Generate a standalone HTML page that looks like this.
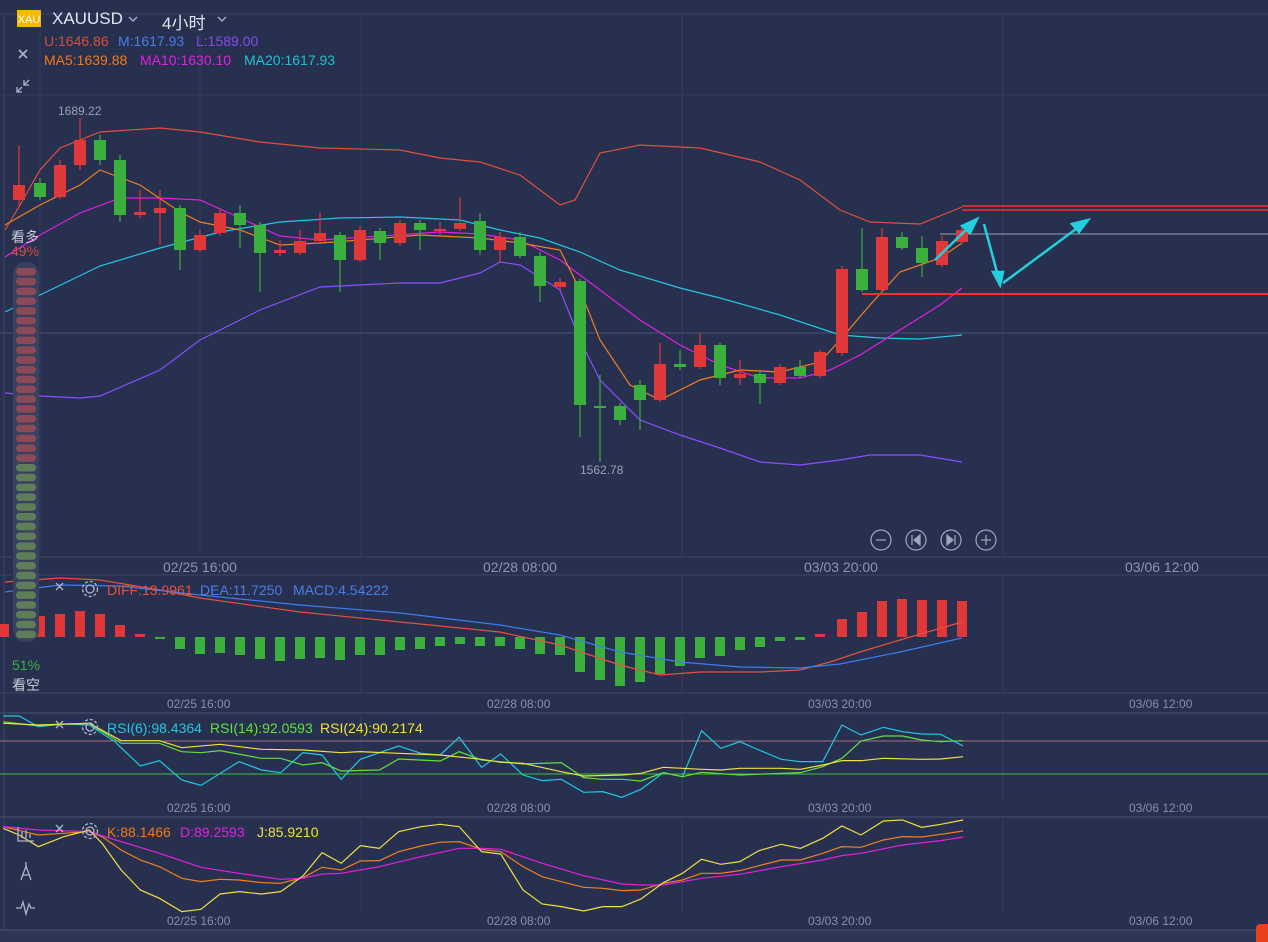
<!DOCTYPE html>
<html><head><meta charset="utf-8"><style>
body{margin:0;background:#283050;width:1268px;height:942px;overflow:hidden;font-family:"Liberation Sans","Noto Sans CJK SC",sans-serif;position:relative}
.t{position:absolute;font-size:14px;white-space:nowrap}
.ax{position:absolute;font-size:12px;color:#8a8fa8}
</style></head><body>
<svg width="1268" height="942" style="position:absolute;left:0;top:0">
<rect x="0" y="930" width="1268" height="12" fill="#2e3556"/>
<line x1="0" y1="14" x2="1268" y2="14" stroke="#3c4466"/>
<line x1="4" y1="14" x2="4" y2="930" stroke="#3c4466"/>
<g stroke="#343c5e" stroke-width="1">
<line x1="40" y1="14" x2="40" y2="557"/><line x1="200" y1="14" x2="200" y2="557"/><line x1="361" y1="14" x2="361" y2="557"/><line x1="682" y1="14" x2="682" y2="557"/><line x1="1003" y1="14" x2="1003" y2="557"/>
<line x1="0" y1="95" x2="1268" y2="95"/><line x1="0" y1="333" x2="1268" y2="333" stroke="#4a5272"/>
<line x1="0" y1="557" x2="1268" y2="557" stroke="#3c4466"/>
<line x1="0" y1="575" x2="1268" y2="575" stroke="#3c4466"/>
<line x1="361" y1="575" x2="361" y2="693"/><line x1="682" y1="575" x2="682" y2="693"/><line x1="1003" y1="575" x2="1003" y2="693"/>
<line x1="0" y1="693" x2="1268" y2="693" stroke="#3c4466"/>
<line x1="0" y1="713" x2="1268" y2="713" stroke="#4a5272"/>
<line x1="361" y1="713" x2="361" y2="800"/><line x1="682" y1="713" x2="682" y2="800"/><line x1="1003" y1="713" x2="1003" y2="800"/>
<line x1="0" y1="817" x2="1268" y2="817" stroke="#4a5272"/>
<line x1="361" y1="817" x2="361" y2="912"/><line x1="682" y1="817" x2="682" y2="912"/><line x1="1003" y1="817" x2="1003" y2="912"/>
<line x1="0" y1="930" x2="1268" y2="930" stroke="#4a5272"/>
</g>
<g fill="none" stroke-width="1.2">
<polyline stroke="#e0503c" points="5,230 20,205 40,170 60,148 100,132 160,128 200,132 260,142 320,148 400,150 440,158 480,162 520,175 560,205 575,200 600,153 640,145 700,148 760,162 800,180 840,210 870,222 920,224 962,207"/>
<polyline stroke="#8a4dff" points="5,393 40,396 80,398 100,396 160,370 200,340 260,310 320,287 400,283 440,283 480,273 500,262 520,265 560,290 580,340 600,380 640,420 680,435 720,448 760,462 800,465 840,460 870,455 920,455 962,462"/>
<polyline stroke="#22c8e0" points="5,312 40,295 100,266 160,248 220,232 280,222 340,218 400,217 460,220 500,230 540,238 580,252 620,270 680,288 720,298 780,315 840,335 880,338 920,339 962,335"/>
<polyline stroke="#e020e0" points="5,257 40,235 80,213 120,198 160,198 200,200 240,218 280,236 320,240 380,236 440,232 480,234 520,240 560,260 600,290 640,320 680,345 720,365 760,378 800,378 830,370 860,355 900,330 940,305 962,288"/>
<polyline stroke="#f08020" points="5,225 40,205 80,185 100,170 140,185 180,212 200,222 240,230 280,245 320,243 360,240 420,235 480,238 520,243 560,250 580,290 600,340 630,385 660,400 700,380 740,370 780,372 820,362 840,340 870,305 900,272 940,258 962,243"/>
</g>
<g stroke-width="1">
<line x1="962" y1="206" x2="1268" y2="206" stroke="#ff2a2a" stroke-width="1.5"/>
<line x1="962" y1="210" x2="1268" y2="210" stroke="#ff2a2a" stroke-width="1.5"/>
<line x1="862" y1="294" x2="1268" y2="294" stroke="#ff2a2a" stroke-width="2"/>
<line x1="940" y1="234" x2="1268" y2="234" stroke="#9aa0b8"/>
</g>
<g id="candles"></g>
<g stroke="#22d0e0" stroke-width="2.5" fill="#22d0e0">
<line x1="935" y1="260" x2="970" y2="226"/><polygon points="977,219 962,226 970,233"/>
<line x1="984" y1="224" x2="998" y2="276"/><polygon points="1000,285 993,272 1003,272"/>
<line x1="1003" y1="283" x2="1080" y2="226"/><polygon points="1088,220 1072,224 1079,232"/>
</g>
<g fill="none" stroke="#a0a6bc" stroke-width="1.2">
<circle cx="881" cy="540" r="10"/><circle cx="916" cy="540" r="10"/><circle cx="951" cy="540" r="10"/><circle cx="986" cy="540" r="10"/>
<line x1="876" y1="540" x2="886" y2="540"/><line x1="981" y1="540" x2="991" y2="540"/><line x1="986" y1="535" x2="986" y2="545"/>
<line x1="912" y1="535" x2="912" y2="545"/><polygon points="920,535 914,540 920,545" fill="#a0a6bc"/>
<line x1="955" y1="535" x2="955" y2="545"/><polygon points="947,535 953,540 947,545" fill="#a0a6bc"/>
</g>
<g id="macd"></g>
<g fill="none" stroke-width="1.2">
<polyline stroke="#e8503c" points="5,582 60,578 100,580 160,590 200,598 300,612 400,622 500,632 560,645 620,665 660,675 700,672 760,672 800,670 830,662 860,652 900,640 962,622"/>
<polyline stroke="#3c7cf0" points="5,592 60,585 120,586 200,595 300,605 400,613 500,625 560,635 620,652 680,662 740,667 800,668 840,664 900,652 962,638"/>
</g>
<line x1="0" y1="741" x2="1268" y2="741" stroke="#a07080"/>
<line x1="0" y1="774" x2="1268" y2="774" stroke="#3cc040"/>
<g transform="translate(0,710) scale(0.6378,0.3333)" fill="none" stroke-width="1.2">
<polyline vector-effect="non-scaling-stroke" stroke="#22c8e0" points="5,18 30,18 60,50 100,42 140,45 180,95 220,168 250,152 285,210 315,226 375,155 410,180 440,188 475,128 505,135 535,208 565,148 625,108 660,130 690,135 720,82 755,172 785,132 820,195 850,212 880,208 915,247 945,245 975,262 1005,238 1040,188 1070,200 1100,62 1130,115 1160,95 1190,120 1225,148 1255,155 1290,155 1320,45 1350,75 1385,52 1415,65 1445,72 1475,73 1510,108"/>
<polyline vector-effect="non-scaling-stroke" stroke="#60e040" points="5,35 60,48 100,42 140,40 190,100 250,100 285,125 315,128 345,122 410,145 440,145 475,165 505,158 535,183 595,180 625,147 690,153 720,125 755,150 785,155 820,162 880,158 915,203 945,208 975,208 1005,213 1040,188 1070,200 1100,187 1160,195 1225,190 1255,188 1290,170 1320,145 1350,93 1385,78 1415,78 1445,90 1475,95 1510,92"/>
<polyline vector-effect="non-scaling-stroke" stroke="#f0e040" points="5,40 60,45 140,40 190,92 250,92 285,113 345,103 410,118 475,120 535,128 565,125 625,130 690,135 755,148 785,157 820,160 880,185 915,198 975,195 1005,190 1040,172 1100,178 1130,180 1160,175 1225,175 1255,178 1290,165 1320,152 1350,152 1385,145 1445,148 1475,147 1510,140"/>
<polyline vector-effect="non-scaling-stroke" stroke="#f08020" points="5,350 60,375 100,370 140,365 160,380 190,420 220,450 250,470 285,505 315,515 345,508 375,510 410,518 440,520 475,503 505,472 535,480 565,453 595,452 625,425 660,408 690,397 720,395 755,418 785,425 820,470 850,500 880,515 915,532 945,535 975,542 1005,540 1040,520 1070,510 1100,490 1130,490 1160,482 1190,467 1225,450 1255,450 1290,430 1320,410 1350,412 1385,390 1415,380 1445,381 1475,373 1510,363"/>
<polyline vector-effect="non-scaling-stroke" stroke="#e020e0" points="5,350 60,360 140,365 190,395 250,430 315,472 375,490 440,508 475,505 505,492 535,490 595,470 660,440 720,415 755,415 785,418 850,460 915,497 975,522 1005,525 1040,525 1100,505 1160,493 1225,470 1290,450 1320,437 1350,430 1415,405 1475,392 1510,381"/>
<polyline vector-effect="non-scaling-stroke" stroke="#f0e040" points="5,355 30,375 60,410 100,380 140,360 160,400 190,480 220,540 250,565 285,605 315,598 345,552 375,545 410,552 440,545 475,498 505,428 535,460 565,407 595,415 625,365 660,350 690,343 720,350 755,425 785,432 820,540 850,582 880,590 915,603 945,590 975,590 1005,567 1040,518 1070,490 1100,448 1130,463 1160,455 1190,422 1225,403 1255,415 1290,385 1320,348 1350,375 1385,333 1415,330 1445,352 1475,343 1510,330"/>
</g>
<rect x="13" y="262" width="26" height="380" rx="12" fill="#3a4060"/>
<g id="pill"></g>
<rect x="17" y="10" width="24" height="17" fill="#f5b800"/>
<text x="29" y="23" font-size="11" fill="#fff" text-anchor="middle" font-family="Liberation Sans">XAU</text>
<g stroke="#b0b4c8" stroke-width="1.3" fill="none">
<path d="M129 17l4 4 4-4"/><path d="M218 17l4 4 4-4"/>
<path d="M19 50l8 8M27 50l-8 8" stroke-width="1.6"/>
<path d="M17 92l5-5M17 87v5h5M29 80l-5 5M29 85h-5v-5"/>
<path d="M56 583l7 7M63 583l-7 7M56 721l7 7M63 721l-7 7M56 825l7 7M63 825l-7 7"/>
<circle cx="90" cy="589" r="4"/><circle cx="90" cy="589" r="7.5" stroke-dasharray="3 2"/>
<circle cx="90" cy="727" r="4"/><circle cx="90" cy="727" r="7.5" stroke-dasharray="3 2"/>
<circle cx="90" cy="831" r="4"/><circle cx="90" cy="831" r="7.5" stroke-dasharray="3 2"/>
<path d="M18 827v14h16M22 838v-6M26 838v-8M30 838v-4"/>
<path d="M26 862v4M21 880l5-14 5 14M22 875h8"/>
<path d="M16 908h5l2-6 3 12 3-10 2 4h4"/>
</g>
<path d="M1256 942v-14q0-4 6-4h6v18z" fill="#e8401c"/>
</svg>
<div class="t" style="left:52px;top:9px;font-size:17px;color:#e0e4f0">XAUUSD</div>
<div class="t" style="left:162px;top:9px;font-size:17px;color:#e0e4f0">4小时</div>
<div class="t" style="left:44px;top:33px;color:#d0503c">U:1646.86</div>
<div class="t" style="left:118px;top:33px;color:#4a7ce8">M:1617.93</div>
<div class="t" style="left:196px;top:33px;color:#8a4ae8">L:1589.00</div>
<div class="t" style="left:44px;top:52px;color:#f07818">MA5:1639.88</div>
<div class="t" style="left:140px;top:52px;color:#e020e0">MA10:1630.10</div>
<div class="t" style="left:244px;top:52px;color:#20c0d0">MA20:1617.93</div>
<div class="t" style="left:58px;top:104px;font-size:12px;color:#9aa0b4">1689.22</div>
<div class="t" style="left:580px;top:463px;font-size:12px;color:#9aa0b4">1562.78</div>
<div class="t" style="left:11px;top:227px;color:#c8ccd8">看多</div>
<div class="t" style="left:11px;top:243px;color:#d05040">49%</div>
<div class="t" style="left:12px;top:657px;color:#3cb040">51%</div>
<div class="t" style="left:12px;top:675px;color:#c8ccd8">看空</div>
<div class="t" style="left:107px;top:582px;color:#e8503c">DIFF:13.9961</div>
<div class="t" style="left:200px;top:582px;color:#4a7ce8">DEA:11.7250</div>
<div class="t" style="left:293px;top:582px;color:#4a7ce8">MACD:4.54222</div>
<div class="t" style="left:107px;top:720px;color:#22c8e0">RSI(6):98.4364</div>
<div class="t" style="left:210px;top:720px;color:#60e040">RSI(14):92.0593</div>
<div class="t" style="left:320px;top:720px;color:#f0e040">RSI(24):90.2174</div>
<div class="t" style="left:107px;top:824px;color:#f07818">K:88.1466</div>
<div class="t" style="left:180px;top:824px;color:#e020e0">D:89.2593</div>
<div class="t" style="left:257px;top:824px;color:#f0e040">J:85.9210</div>
<div class="ax" style="left:163px;top:559px;font-size:14px;color:#9095ac">02/25 16:00</div>
<div class="ax" style="left:483px;top:559px;font-size:14px;color:#9095ac">02/28 08:00</div>
<div class="ax" style="left:804px;top:559px;font-size:14px;color:#9095ac">03/03 20:00</div>
<div class="ax" style="left:1125px;top:559px;font-size:14px;color:#9095ac">03/06 12:00</div>
<div class="ax" style="left:167px;top:697px">02/25 16:00</div><div class="ax" style="left:487px;top:697px">02/28 08:00</div><div class="ax" style="left:808px;top:697px">03/03 20:00</div><div class="ax" style="left:1129px;top:697px">03/06 12:00</div>
<div class="ax" style="left:167px;top:801px">02/25 16:00</div><div class="ax" style="left:487px;top:801px">02/28 08:00</div><div class="ax" style="left:808px;top:801px">03/03 20:00</div><div class="ax" style="left:1129px;top:801px">03/06 12:00</div>
<div class="ax" style="left:167px;top:914px">02/25 16:00</div><div class="ax" style="left:487px;top:914px">02/28 08:00</div><div class="ax" style="left:808px;top:914px">03/03 20:00</div><div class="ax" style="left:1129px;top:914px">03/06 12:00</div>
<script>
var NS="http://www.w3.org/2000/svg";
function el(p,n,a){var e=document.createElementNS(NS,n);for(var k in a)e.setAttribute(k,a[k]);p.appendChild(e);return e;}
var R="#e03838",G="#3cb03c";
var C=[[19,185,200,145,205,R],[40,183,197,178,200,G],[60,165,197,160,199,R],[80,140,165,118,170,R],[100,140,160,135,165,G],[120,160,215,155,222,G],[140,212,215,190,218,R],[160,208,213,190,245,R],[180,208,250,205,270,G],[200,235,250,230,252,R],[220,213,233,208,236,R],[240,213,225,205,248,G],[260,225,253,222,292,G],[280,250,253,240,256,R],[300,241,253,230,255,R],[320,233,241,213,244,R],[340,235,260,232,292,G],[360,230,260,226,262,R],[380,231,243,228,260,G],[400,223,243,220,246,R],[420,223,230,220,250,G],[440,229,231,222,236,R],[460,223,229,197,231,R],[480,221,250,213,255,G],[500,237,250,232,262,R],[520,237,256,232,258,G],[540,256,286,252,302,G],[560,282,287,278,290,R],[580,281,405,279,437,G],[600,406,408,375,462,G],[620,406,420,403,425,G],[640,385,400,380,430,G],[660,364,400,343,402,R],[680,364,367,350,370,G],[700,345,367,333,369,R],[720,345,378,343,385,G],[740,374,378,360,385,R],[760,374,383,370,404,G],[780,367,383,364,385,R],[800,367,376,360,378,G],[820,352,376,350,378,R],[842,269,353,266,356,R],[862,269,290,228,292,G],[882,237,290,228,292,R],[902,237,248,232,250,G],[922,248,263,236,277,G],[942,241,265,236,267,R],[962,230,242,226,244,R]];
var g=document.getElementById("candles");
C.forEach(function(c){el(g,"line",{x1:c[0],x2:c[0],y1:c[3],y2:c[4],stroke:c[5],"stroke-width":1.2});el(g,"rect",{x:c[0]-6,y:c[1],width:12,height:Math.max(2,c[2]-c[1]),fill:c[5]});});
var M=[[4,624],[20,617],[40,616],[60,614],[80,611],[100,614],[120,625],[140,634],[160,638],[180,649],[200,654],[220,653],[240,655],[260,659],[280,661],[300,659],[320,658],[340,660],[360,655],[380,655],[400,650],[420,649],[440,646],[460,644],[480,646],[500,646],[520,649],[540,654],[560,655],[580,672],[600,680],[620,686],[640,682],[660,674],[680,666],[700,658],[720,656],[740,650],[760,647],[780,641],[800,640],[820,634],[842,619],[862,612],[882,601],[902,599],[922,600],[942,600],[962,601]];
var m=document.getElementById("macd");
M.forEach(function(b){var z=637;var top=Math.min(z,b[1]),h=Math.max(2,Math.abs(b[1]-z));el(m,"rect",{x:b[0]-5,y:top,width:10,height:h,fill:b[1]<z?R:G});});
var p=document.getElementById("pill");
for(var y=268;y<636;y+=9.8){el(p,"rect",{x:16,y:y,width:20,height:7.5,rx:3.7,fill:y<455?"#8a4a58":"#5e7e5a"});}
</script>
</body></html>
